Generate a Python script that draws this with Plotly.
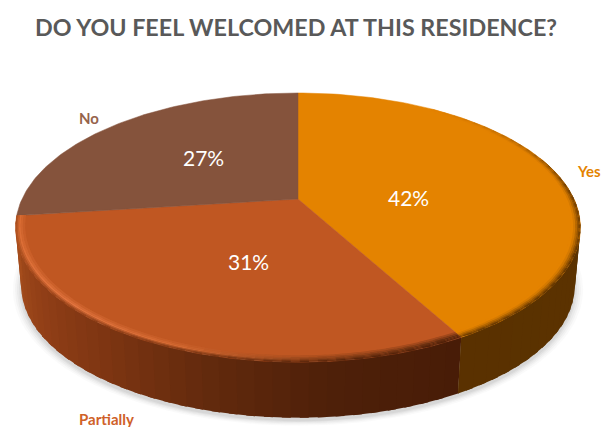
import numpy as np
import plotly.graph_objects as go

# Survey results, in drawing order clockwise from twelve o'clock
categories = ["Yes", "Partially", "No"]
values = [42, 31, 27]
top_colors = ["#E48300", "#C05722", "#85533C"]
label_colors = ["#E48300", "#CF6129", "#96634B"]
chart_title = "DO YOU FEEL WELCOMED AT THIS RESIDENCE?"

W, H = 601, 427
CX, CY, CY_BASE = 298.0, 199.0, 258.0
RX, RY, PERSP, BASE_SCALE = 276.0, 128.5, 0.212, 0.98


def project(radius, deg, base=False):
    """Map a disc position (radius 0-1, degrees clockwise from top) to the page."""
    a = np.radians(deg)
    u, v = radius * np.sin(a), -radius * np.cos(a)
    w = 1 - PERSP * v
    k = BASE_SCALE if base else 1.0
    return CX + k * RX * u / w, (CY_BASE if base else CY) + k * RY * v / w


def hex_rgb(c):
    return np.array([int(c[i:i + 2], 16) for i in (1, 3, 5)], float)


def mix(a, b, t):
    t = float(np.clip(t, 0, 1))
    r = (1 - t) * hex_rgb(a) + t * hex_rgb(b)
    return "#%02x%02x%02x" % tuple(int(round(x)) for x in r)


def ramp(deg, stops):
    ds = [s[0] for s in stops]
    i = int(np.clip(np.searchsorted(ds, deg) - 1, 0, len(ds) - 2))
    t = (deg - ds[i]) / (ds[i + 1] - ds[i])
    return mix(stops[i][1], stops[i + 1][1], t)


fig = go.Figure()


def poly(xs, ys, color, opacity=1.0, edge=0.0):
    fig.add_trace(go.Scatter(
        x=list(xs), y=list(ys), mode="lines", fill="toself", fillcolor=color,
        opacity=opacity, line=dict(color=color, width=edge), hoverinfo="skip",
        showlegend=False))


# Slice limits in degrees clockwise from the top
limits = 360 * np.cumsum([0] + values) / sum(values)

# Soft contact shadow under the base
t_all = np.linspace(0, 360, 181)
for grow, alpha in [(1.030, .05), (1.022, .07), (1.015, .09), (1.008, .12), (1.002, .14)]:
    sx, sy = project(1.0, t_all, base=True)
    poly(CX + (sx - CX) * grow, CY_BASE + 3 + (sy - CY_BASE) * grow, "#9a9a9a", alpha)

# Side wall, shaded in narrow strips that overlap so no seams show
partial_wall = [(151, "#481C07"), (175, "#4E2009"), (195, "#622A0D"),
                (215, "#7D3512"), (235, "#913F17"), (250, "#A04A1B"), (263, "#A64E1D")]
yes_wall = [(70, "#5C3400"), (152, "#5A3100")]
for deg0, deg1, stops in [(limits[1], limits[2], partial_wall), (70, limits[1], yes_wall)]:
    edges = np.arange(deg0, deg1, 3.0).tolist() + [deg1]
    for d0, d1 in zip(edges[:-1], edges[1:]):
        ts = np.linspace(d0, min(d1 + 1.5, deg1), 5)
        xt, yt = project(1.0, ts)
        xb, yb = project(1.0, ts, base=True)
        poly(np.r_[xt, xb[::-1]], np.r_[yt, yb[::-1]], ramp((d0 + d1) / 2, stops))

# Flat top of each slice
for i in range(len(values)):
    ts = np.linspace(limits[i], limits[i + 1], 120)
    xs, ys = project(1.0, ts)
    poly(np.r_[CX, xs, CX], np.r_[CY, ys, CY], top_colors[i], edge=0.5)

# Bevelled rim: brighter on the lit left side, dropping to the wall colour at the lip
bevel_peak = [(151, "#5E2A0E"), (178, "#8E4219"), (200, "#D46A33"), (225, "#E27540"), (263, "#D86B32")]
radii = [0.968, 0.976, 0.983, 0.989, 0.994, 0.998, 1.0]
for k in range(len(radii) - 1):
    r0, r1 = radii[k], radii[k + 1]
    shade = (k + 1) / (len(radii) - 1)
    for seg in range(2):
        lo, hi = limits[seg], limits[seg + 1]
        start = lo + 35 if seg == 0 else lo
        edges = np.arange(start, hi, 3.0).tolist() + [hi]
        for d0, d1 in zip(edges[:-1], edges[1:]):
            mid = (d0 + d1) / 2
            if seg == 0:
                # orange top darkens into its shaded wall, more strongly further round
                reach = (mid - 35) / 50
                color = mix(top_colors[0], "#5A3100",
                            min(reach, 1) * max(0, (shade - .25) / .75))
            else:
                peak = ramp(mid, bevel_peak)
                wall = ramp(mid, partial_wall)
                color = mix(top_colors[1], peak, shade / .5) if shade <= .5 \
                    else mix(peak, wall, (shade - .5) / .5)
            ts = np.linspace(d0, min(d1 + 1.5, hi), 5)
            xa, ya = project(r0, ts)
            xb, yb = project(r1, ts)
            poly(np.r_[xa, xb[::-1]], np.r_[ya, yb[::-1]], color)

# Percentages on the slices and category names around the pie
pct_pos = [(408, 197), (248, 261), (203, 157)]
name_pos = [(589, 171), (106, 418.5), (89, 118)]
annotations = []
for name, val, pp, np_, col in zip(categories, values, pct_pos, name_pos, label_colors):
    annotations.append(dict(x=pp[0], y=pp[1], text=f"{val}%", showarrow=False,
                            font=dict(family="Lato", size=21, color="#FFFFFF")))
    annotations.append(dict(x=np_[0], y=np_[1], text=f"<b>{name}</b>", showarrow=False,
                            font=dict(family="Lato", size=15, color=col)))
annotations.append(dict(x=296, y=27, text=f"<b>{chart_title}</b>", showarrow=False,
                        font=dict(family="Lato", size=23.3, color="#595959")))

fig.update_layout(
    width=W, height=H, margin=dict(l=0, r=0, t=0, b=0),
    paper_bgcolor="#FFFFFF", plot_bgcolor="#FFFFFF", showlegend=False,
    xaxis=dict(range=[0, W], visible=False, fixedrange=True),
    yaxis=dict(range=[H, 0], visible=False, fixedrange=True),
    annotations=annotations,
)
fig.write_html("out.html", config={"displayModeBar": False})
